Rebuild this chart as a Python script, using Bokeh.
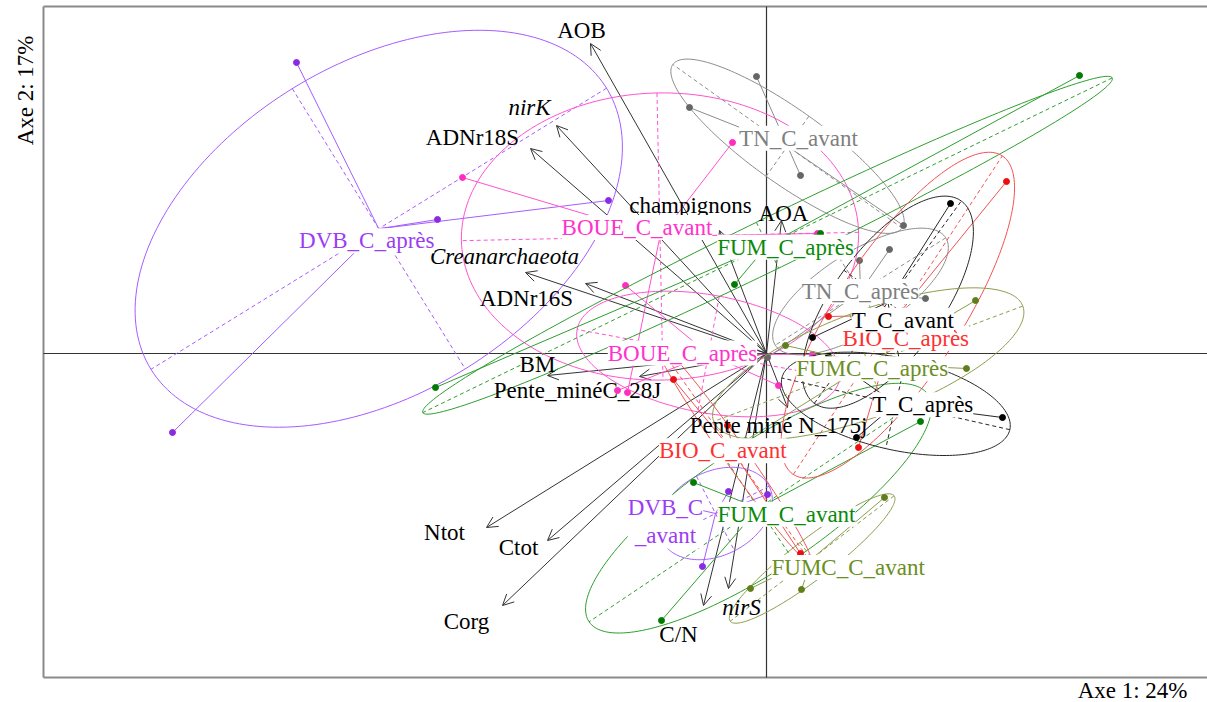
import numpy as np
from bokeh.plotting import figure
from bokeh.models import Range1d, Arrow, OpenHead, ColumnDataSource
from bokeh.core.properties import value
from bokeh.embed import file_html
from bokeh.resources import INLINE

# ---------------- variables (arrows) ----------------
var_names = ["AOB", "nirK", "ADNr18S", "Creanarchaeota", "ADNr16S", "BM",
             "Pente_minéC_28J", "Ntot", "Ctot", "Corg", "C/N", "nirS",
             "Pente miné N_175j", "AOA", "champignons"]
var_x = [-1.76, -2.10, -2.36, -2.41, -1.81, -2.19, -1.27, -2.80, -2.19, -2.64,
         -0.63, -0.38, 0.21, 0.15, -0.47]
var_y = [3.10, 2.28, 2.05, 0.81, 0.70, -0.22, -0.23, -1.74, -1.87, -2.52,
         -2.52, -2.35, -0.54, 1.33, 1.23]
var_lab_x = [-1.85, -2.37, -2.94, -2.62, -2.40, -2.29, -1.89, -3.22, -2.48, -3.00,
             -0.88, -0.25, 0.12, 0.17, -0.76]
var_lab_y = [3.23, 2.46, 2.16, 0.97, 0.55, -0.11, -0.37, -1.79, -1.94, -2.68,
             -2.81, -2.54, -0.72, 1.40, 1.48]
var_italic = [False, True, False, True, False, False, False, False, False, False,
              False, True, False, False, False]

# ---------------- groups (individual scores) ----------------
group_labels = ["DVB_C_après", "DVB_C\n_avant", "BOUE_C_avant", "BOUE_C_après",
                "TN_C_avant", "TN_C_après", "FUM_C_après", "FUM_C_avant",
                "BIO_C_avant", "BIO_C_après", "T_C_avant", "T_C_après",
                "FUMC_C_après", "FUMC_C_avant"]
dvb_apres_x = [-4.70, -5.94, -3.29, -1.58]
dvb_apres_y = [2.91, -0.79, 1.34, 1.53]
dvb_avant_x = [-1.03, -0.38, 0.01, -0.64]
dvb_avant_y = [-1.48, -1.38, -1.41, -2.13]
boue_avant_x = [-3.04, -0.34, 0.51, -1.39]
boue_avant_y = [1.76, 2.11, 1.20, -0.39]
boue_apres_x = [-1.41, -1.49, 0.12, 0.46]
boue_apres_y = [0.68, -0.37, -0.32, -0.01]
tn_avant_x = [-0.10, -0.77, 0.34, 1.37]
tn_avant_y = [2.77, 2.46, 1.78, 1.28]
tn_apres_x = [1.23, 0.93, 0.01, 1.59]
tn_apres_y = [1.04, 0.93, -0.04, 0.55]
fum_apres_x = [3.13, -3.31, -0.32, 0.54]
fum_apres_y = [2.78, -0.34, 0.69, 1.20]
fum_avant_x = [1.54, -0.73, -1.05]
fum_avant_y = [-0.68, -1.29, -2.67]
bio_avant_x = [-0.93, -0.39, 0.34]
bio_avant_y = [-0.26, -0.72, -2.00]
bio_apres_x = [2.40, 0.62, 0.92]
bio_apres_y = [1.72, 0.37, -0.94]
t_avant_x = [1.84, 0.46, 1.34]
t_avant_y = [1.50, 0.16, -0.12]
t_apres_x = [2.36, 0.90, 0.62]
t_apres_y = [-0.64, -0.84, -0.03]
fumc_apres_x = [2.00, 2.09, 0.19, -0.21]
fumc_apres_y = [-0.15, 0.53, 0.08, -0.87]
fumc_avant_x = [1.18, 0.35, -0.16]
fumc_avant_y = [-1.44, -2.36, -2.35]

group_x = [dvb_apres_x, dvb_avant_x, boue_avant_x, boue_apres_x, tn_avant_x, tn_apres_x,
           fum_apres_x, fum_avant_x, bio_avant_x, bio_apres_x, t_avant_x, t_apres_x,
           fumc_apres_x, fumc_avant_x]
group_y = [dvb_apres_y, dvb_avant_y, boue_avant_y, boue_apres_y, tn_avant_y, tn_apres_y,
           fum_apres_y, fum_avant_y, bio_avant_y, bio_apres_y, t_avant_y, t_apres_y,
           fumc_apres_y, fumc_avant_y]

axis1_title = "Axe 1: 24%"
axis2_title = "Axe 2: 17%"

# ---------------- styles ----------------
PURPLE = ("#A65BFF", "#8A2BE2", "#9B3DF5")
PINK = ("#FF52CF", "#FF2DC0", "#FF33CC")
GREY = ("#8C8C8C", "#666666", "#7F7F7F")
GREEN = ("#2E9E2E", "#007A00", "#0A8A0A")
RED = ("#F25252", "#E81010", "#FF3030")
BLACK = ("#262626", "#000000", "#000000")
OLIVE = ("#8A9E4A", "#5F7F1A", "#6B8E23")
group_style = [PURPLE, PURPLE, PINK, PINK, GREY, GREY, GREEN, GREEN, RED, RED,
               BLACK, BLACK, OLIVE, OLIVE]
label_dx = [-12, -50, -23, -26, 11, 0, 18, 28, -11, 8, 15, 27, 4, 36]
label_dy = [12, 8, -9, -1, -8, 0, 2, 6, -2, 23, 18, 1, 5, 9]

FONT = "Liberation Serif"
FS = "23px"

# plotting box (drawn by hand) and page extent, in axis units
BOX_L, BOX_T, BOX_B, BOX_R = -7.23, 3.47, -3.24, 4.45
X0, X1, Y0, Y1 = -7.66, 4.41, -3.49, 3.53

p = figure(width=1207, height=702, output_backend="svg", toolbar_location=None,
           x_range=Range1d(X0, X1), y_range=Range1d(Y0, Y1),
           x_axis_location=None, y_axis_location=None,
           min_border_left=0, min_border_right=0, min_border_top=0,
           min_border_bottom=0)
p.grid.visible = False
p.outline_line_color = None
p.background_fill_color = "white"
p.border_fill_color = "white"

# arrows (under everything else)
n = len(var_x)
asrc = ColumnDataSource(dict(x0=[0.0] * n, y0=[0.0] * n, x1=var_x, y1=var_y))
p.add_layout(Arrow(end=OpenHead(size=11, line_color="#333333", line_width=1),
                   x_start="x0", y_start="y0", x_end="x1", y_end="y1",
                   source=asrc, line_color="#333333", line_width=1,
                   level="underlay"))

# frame (left, top, bottom) and origin cross
p.segment(x0=[BOX_L, BOX_L, BOX_L], y0=[BOX_B, BOX_T, BOX_B],
          x1=[BOX_L, BOX_R, BOX_R], y1=[BOX_T, BOX_T, BOX_B],
          line_color="#8a8a8a", line_width=2)
p.segment(x0=[0, BOX_L], y0=[BOX_B, 0], x1=[0, BOX_R], y1=[BOX_T, 0],
          line_color="#333333", line_width=1.2)


def ellipse(xs, ys, c=1.5):
    x = np.asarray(xs, float)
    y = np.asarray(ys, float)
    mx, my = x.mean(), y.mean()
    cov = np.cov(np.vstack([x, y]), bias=True)
    w, v = np.linalg.eigh(cov)
    order = w.argsort()[::-1]
    w = np.clip(w[order], 0, None)
    v = v[:, order]
    a, b = c * np.sqrt(w[0]), c * np.sqrt(w[1])
    t = np.linspace(0, 2 * np.pi, 200)
    ex = mx + a * np.cos(t) * v[0, 0] + b * np.sin(t) * v[0, 1]
    ey = my + a * np.cos(t) * v[1, 0] + b * np.sin(t) * v[1, 1]
    ax = [(mx - a * v[0, 0], my - a * v[1, 0], mx + a * v[0, 0], my + a * v[1, 0]),
          (mx - b * v[0, 1], my - b * v[1, 1], mx + b * v[0, 1], my + b * v[1, 1])]
    return mx, my, ex, ey, ax


cents = []
for xs, ys, (lc, pc, tc) in zip(group_x, group_y, group_style):
    mx, my, ex, ey, ax = ellipse(xs, ys)
    cents.append((mx, my))
    p.line(ex, ey, line_color=lc, line_width=1)
    p.segment(x0=[a[0] for a in ax], y0=[a[1] for a in ax],
              x1=[a[2] for a in ax], y1=[a[3] for a in ax],
              line_color=lc, line_width=1, line_dash="4 3")
    p.segment(x0=xs, y0=ys, x1=[mx] * len(xs), y1=[my] * len(ys),
              line_color=lc, line_width=1)
    p.scatter(xs, ys, size=6, fill_color=pc, line_color=pc)

# variable labels
for ital in (False, True):
    idx = [i for i in range(n) if var_italic[i] == ital]
    p.text(x=[var_lab_x[i] for i in idx], y=[var_lab_y[i] for i in idx],
           text=[var_names[i] for i in idx], text_font=value(FONT),
           text_font_size=value(FS), text_align="center", text_baseline="middle",
           text_color="black", text_font_style="italic" if ital else "normal")

# group labels with white boxes
gsrc = ColumnDataSource(dict(
    x=[c[0] for c in cents], y=[c[1] for c in cents], text=group_labels,
    color=[s[2] for s in group_style], dx=label_dx, dy=label_dy))
p.text(x="x", y="y", text="text", source=gsrc, x_offset="dx", y_offset="dy",
       text_font=value(FONT), text_font_size=value(FS), text_align="center",
       text_baseline="middle", text_color="color", text_line_height=1.15,
       background_fill_color="white")

# axis titles
p.text(x=[4.21], y=[-3.37], text=[axis1_title], text_align="right",
       text_baseline="middle", text_font=value(FONT), text_font_size=value(FS),
       text_color="black")
p.text(x=[-7.41], y=[3.18], text=[axis2_title], text_align="right",
       text_baseline="middle", angle=np.pi / 2, text_font=value(FONT),
       text_font_size=value(FS), text_color="black")

open("out.html", "w").write(file_html(p, INLINE))
